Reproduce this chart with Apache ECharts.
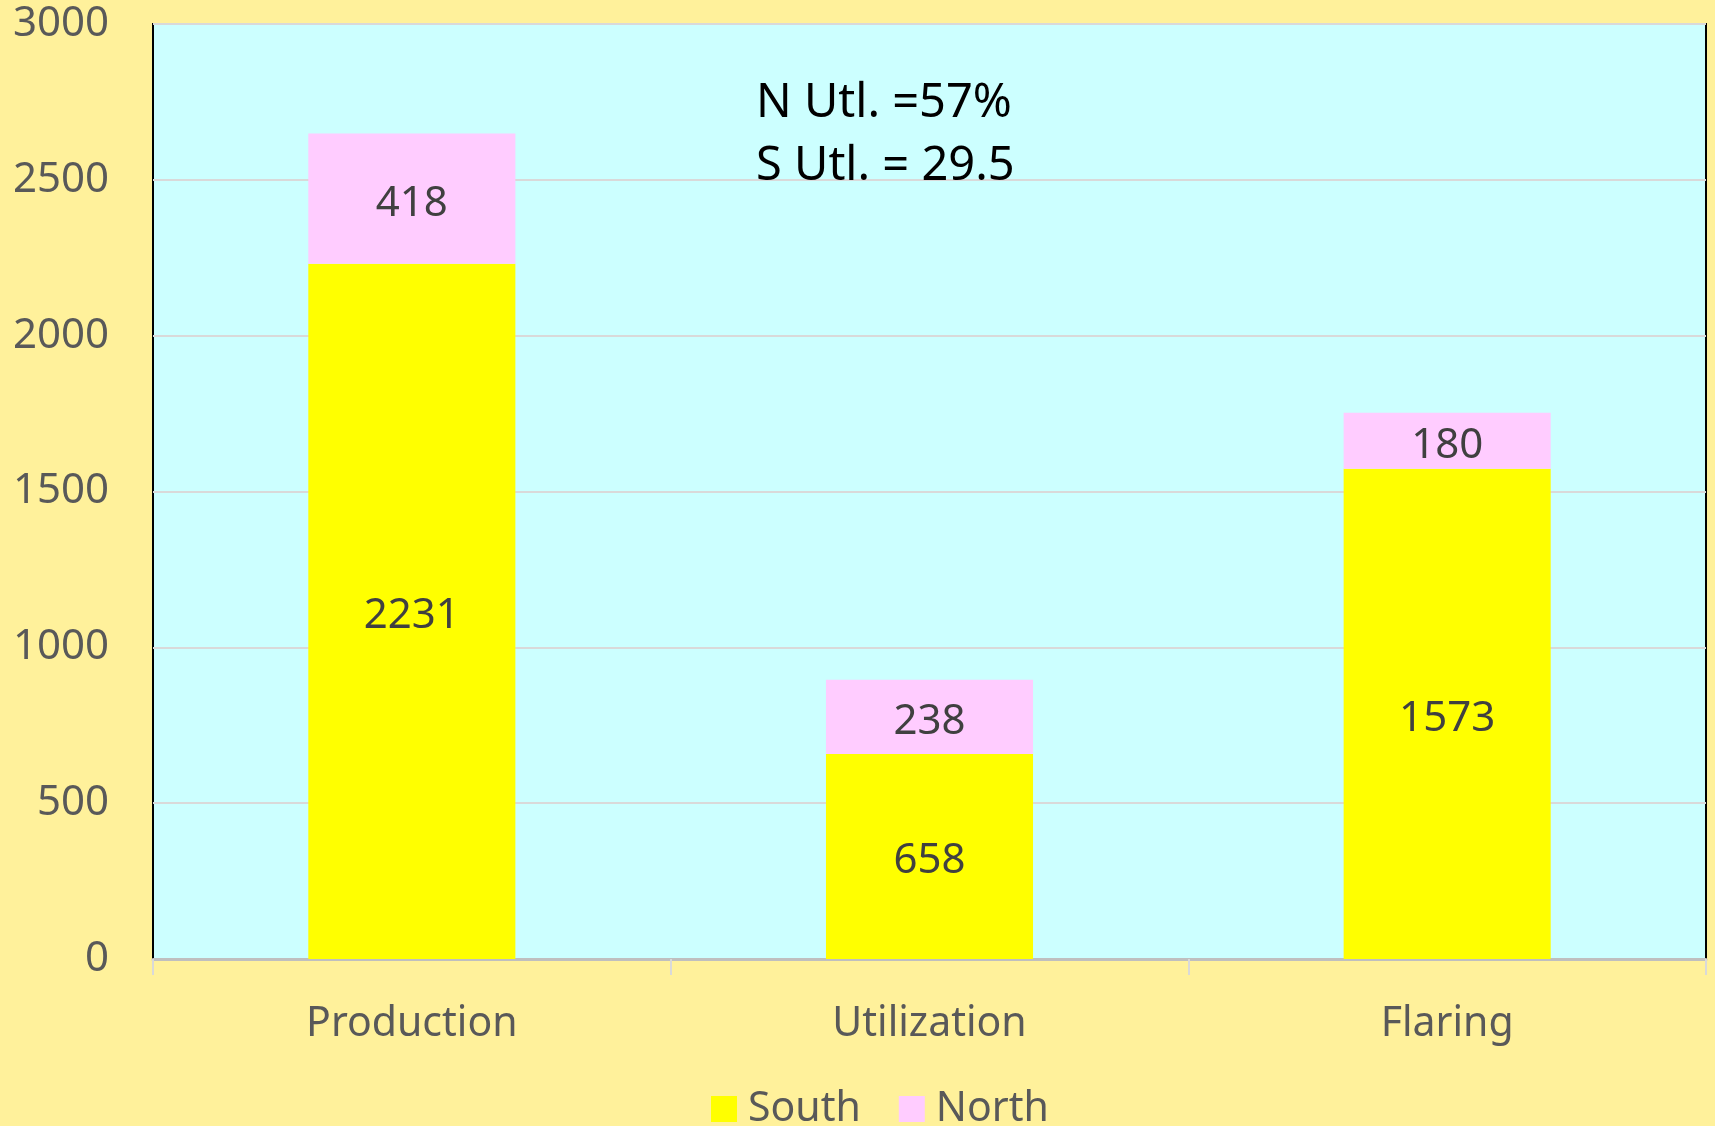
<!DOCTYPE html>
<html>
<head>
<meta charset="utf-8">
<script src="https://cdn.jsdelivr.net/npm/echarts@6/dist/echarts.min.js"></script>
<style>
  html, body { margin: 0; padding: 0; background: #fff19b; }
  #chart { width: 1715px; height: 1126px; }
</style>
</head>
<body>
<div id="chart"></div>
<script>
var categories = ['Production', 'Utilization', 'Flaring'];
var south = [2231, 658, 1573];
var north = [418, 238, 180];
var yTicks = { min: 0, max: 3000, interval: 500 };
var noteLines = ['N Utl. =57%', 'S Utl. = 29.5'];

var font = 'Noto Sans';
var chart = echarts.init(document.getElementById('chart'), null, { renderer: 'canvas' });

chart.setOption({
  animation: false,
  backgroundColor: '#fff19b',
  textStyle: { fontFamily: font },
  grid: {
    left: 153, right: 9, top: 24, bottom: 167,
    show: true,
    backgroundColor: '#ccffff',
    borderColor: '#000000',
    borderWidth: 2
  },
  legend: {
    left: 706, top: 1082,
    itemWidth: 26, itemHeight: 26, itemGap: 38,
    icon: 'rect',
    textStyle: { fontSize: 41, color: '#595959', lineHeight: 44, padding: [0, 0, 0, 6] },
    data: ['South', 'North']
  },
  xAxis: {
    type: 'category',
    data: categories,
    axisLine: { lineStyle: { color: '#bfbfbf', width: 3 } },
    axisTick: { show: true, length: 16, lineStyle: { color: '#d9d9d9', width: 2 } },
    axisLabel: { fontSize: 41, color: '#595959', margin: 45 }
  },
  yAxis: {
    type: 'value',
    min: yTicks.min, max: yTicks.max, interval: yTicks.interval,
    axisLine: { show: false },
    axisTick: { show: false },
    axisLabel: { fontSize: 42, color: '#595959', margin: 44, formatter: function (v) { return String(v); } },
    splitLine: { lineStyle: { color: '#d9d9d9', width: 2 } }
  },
  series: [
    {
      name: 'South', type: 'bar', stack: 'total', data: south,
      barWidth: '40%',
      itemStyle: { color: '#ffff00' },
      label: { show: true, position: 'inside', offset: [0, 5], fontSize: 42, color: '#404040' }
    },
    {
      name: 'North', type: 'bar', stack: 'total', data: north,
      barWidth: '40%',
      itemStyle: { color: '#ffccff' },
      label: { show: true, position: 'inside', offset: [0, 5], fontSize: 42, color: '#404040' }
    }
  ],
  graphic: [
    {
      type: 'text', left: 756, top: 72, z: 100,
      style: { text: noteLines.join('\n'), font: '47px "Noto Sans"', fill: '#000000', lineHeight: 63 }
    }
  ]
});
window.addEventListener('resize', function () { chart.resize(); });
</script>
</body>
</html>
